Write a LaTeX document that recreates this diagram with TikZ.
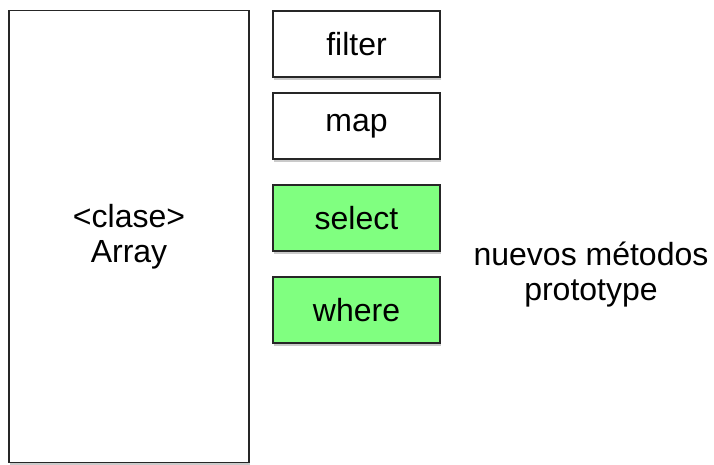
\documentclass[tikz,border=0pt]{standalone}
\usepackage{fontspec}
\setmainfont{Liberation Sans}
\usetikzlibrary{shadows}
\definecolor{boxline}{HTML}{262626}
\definecolor{newgreen}{HTML}{80FF80}
\tikzset{
  base/.style={draw=boxline, line width=1.6pt, rectangle, inner sep=0pt,
    font=\fontsize{32}{35}\selectfont, align=center,
    drop shadow={shadow xshift=1pt, shadow yshift=-2.5pt, opacity=0.35, fill=black!60}},
  classbox/.style={base, fill=white, minimum width=240pt, minimum height=452pt},
  methodbox/.style={base, fill=white, minimum width=167pt, minimum height=66pt},
  newbox/.style={methodbox, fill=newgreen},
  note/.style={font=\fontsize{32}{35}\selectfont, align=center}
}
\begin{document}
\begin{tikzpicture}[x=1pt, y=-1pt]
  \useasboundingbox (0,0) rectangle (714,464);
  \node[classbox] (array) at (129,236.5) {<clase>\\Array};
  \node[methodbox] (filter) at (356.5,44) {filter};
  \node[methodbox] (map) at (356.5,126) {map};
  \node[newbox] (select) at (356.5,218) {select};
  \node[newbox] (where) at (356.5,310) {where};
  \node[note] (label) at (591,275) {nuevos métodos\\prototype};
\end{tikzpicture}
\end{document}
